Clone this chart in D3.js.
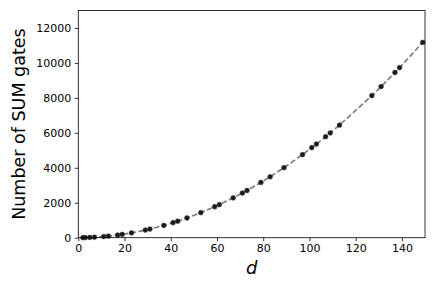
<!DOCTYPE html>
<html><head><meta charset="utf-8">
<script src="https://cdn.jsdelivr.net/npm/d3@7"></script>
<style>body{margin:0;background:#fff}svg{display:block}</style>
</head><body>
<svg id="c" width="436" height="291"></svg>
<script>
const dValues = [2,3,5,7,11,13,17,19,23,29,31,37,41,43,47,53,59,61,67,71,73,79,83,89,97,101,103,107,109,113,127,131,137,139,149];
const sumGates = [3,6,15,28,66,91,153,190,276,435,496,703,861,946,1128,1431,1770,1891,2278,2556,2701,3160,3486,4005,4753,5151,5356,5778,5995,6441,8128,8646,9453,9730,11175];
const xTicks = [0,20,40,60,80,100,120,140];
const yTicks = [0,2000,4000,6000,8000,10000,12000];
const xLabel = "d";
const yLabel = "Number of SUM gates";

const svg = d3.select("#c");
const L = 78.3, R = 425, T = 10.5, B = 237.7;
const x = d3.scaleLinear().domain([0,150]).range([L,R]);
const y = d3.scaleLinear().domain([0,13000]).range([B,T]);
const data = dValues.map((d,i)=>({d, v:sumGates[i]}));

svg.append("path").datum(data)
  .attr("d", d3.line().x(p=>x(p.d)).y(p=>y(p.v)))
  .attr("fill","none").attr("stroke","#7a7a7a").attr("stroke-width",1.6)
  .attr("stroke-dasharray","5.5,2.5");

svg.selectAll("circle.pt").data(data).enter().append("circle")
  .attr("cx",p=>x(p.d)).attr("cy",p=>y(p.v)).attr("r",2.4)
  .attr("fill","#1a1a1a").attr("stroke","#3a3a3a").attr("stroke-width",0.6);

const font = "DejaVu Sans, sans-serif";
const gx = svg.append("g").attr("transform",`translate(0,${B})`)
  .call(d3.axisBottom(x).tickValues(xTicks).tickSize(3.5).tickPadding(3.5).tickFormat(d3.format("d")));
const gy = svg.append("g").attr("transform",`translate(${L},0)`)
  .call(d3.axisLeft(y).tickValues(yTicks).tickSize(3.5).tickPadding(3.5).tickFormat(d3.format("d")));
[gx,gy].forEach(g=>{
  g.select(".domain").remove();
  g.selectAll("line").attr("stroke","#000").attr("stroke-width",0.8);
  g.selectAll("text").attr("font-family",font).attr("font-size",11).attr("fill","#000");
});
svg.append("rect").attr("x",L).attr("y",T).attr("width",R-L).attr("height",B-T)
  .attr("fill","none").attr("stroke","#000").attr("stroke-width",0.8);

svg.append("text").attr("x",(L+R)/2).attr("y",274).attr("text-anchor","middle")
  .attr("font-family",font).attr("font-style","italic").attr("font-size",18).text(xLabel);
svg.append("text").attr("transform",`translate(25,${(T+B)/2}) rotate(-90)`)
  .attr("text-anchor","middle").attr("font-family",font).attr("font-size",17.5).text(yLabel);
</script>
</body></html>
